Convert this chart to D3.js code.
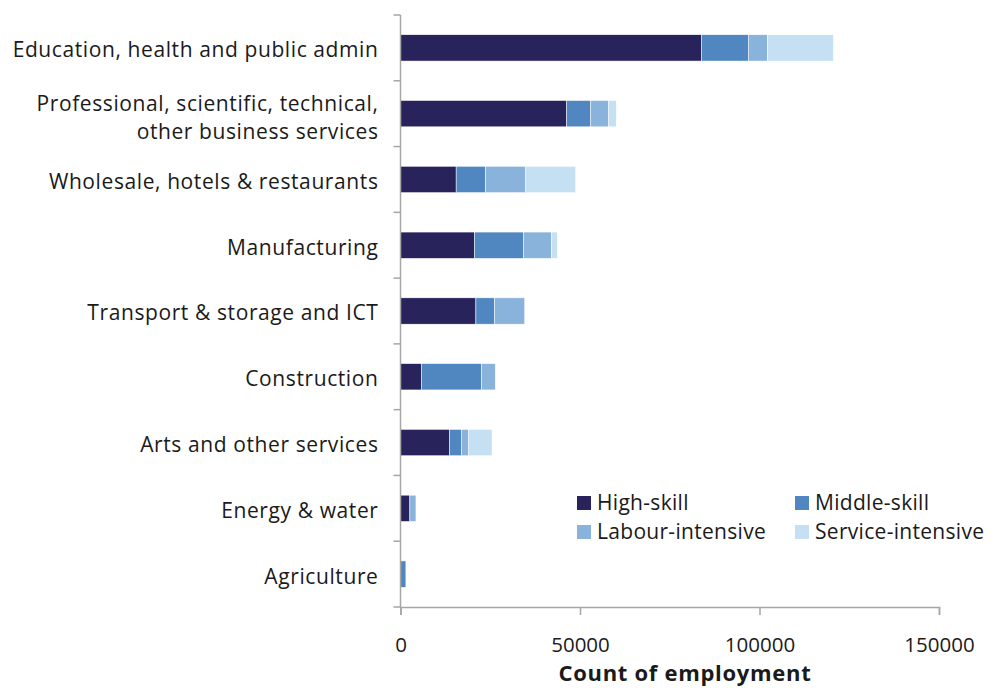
<!DOCTYPE html>
<html>
<head>
<meta charset="utf-8">
<script src="https://cdn.jsdelivr.net/npm/d3@7"></script>
<style>
  body { margin: 0; background: #fff; }
  text { font-family: "Open Sans", "Noto Sans", sans-serif; fill: #1a1a1a; }
</style>
</head>
<body>
<svg id="chart"></svg>
<script>
// Set dimensions
const width = 995, height = 688;
const margin = { top: 15, right: 56, bottom: 81, left: 400.5 };

// Data
const sectors = [
  "Education, health and public admin",
  "Professional, scientific, technical,|other business services",
  "Wholesale, hotels & restaurants",
  "Manufacturing",
  "Transport & storage and ICT",
  "Construction",
  "Arts and other services",
  "Energy & water",
  "Agriculture"
];
const skillGroups = ["High-skill", "Middle-skill", "Labour-intensive", "Service-intensive"];
const highSkill = [83800, 46300, 15500, 20600, 21000, 5900, 13700, 2600, 0];
const middleSkill = [13100, 6700, 8200, 13700, 5200, 16700, 3300, 0, 1500];
const labourIntensive = [5300, 5000, 11200, 7800, 8400, 3800, 2000, 1700, 0];
const serviceIntensive = [18400, 2100, 13900, 1600, 0, 0, 6500, 0, 0];
const xTicks = [0, 50000, 100000, 150000];
const colors = ["#29235c", "#5087c0", "#8ab3dc", "#c6e0f3"];

// Build rows for the stack
const rows = sectors.map((s, i) => ({
  sector: s,
  "High-skill": highSkill[i],
  "Middle-skill": middleSkill[i],
  "Labour-intensive": labourIntensive[i],
  "Service-intensive": serviceIntensive[i]
}));
const stacked = d3.stack().keys(skillGroups)(rows);

const svg = d3.select("#chart")
  .attr("width", width)
  .attr("height", height);

const x = d3.scaleLinear()
  .domain([0, 150000])
  .range([margin.left, width - margin.right]);

const y = d3.scaleBand()
  .domain(sectors)
  .range([margin.top, height - margin.bottom])
  .paddingInner(0.6)
  .paddingOuter(0.3);

const axisColor = "#a6a6a6";

// Bars
svg.append("g")
  .selectAll("g")
  .data(stacked)
  .join("g")
  .attr("fill", (d, i) => colors[i])
  .selectAll("rect")
  .data(d => d)
  .join("rect")
  .attr("x", d => x(d[0]))
  .attr("y", d => y(d.data.sector))
  .attr("width", d => x(d[1]) - x(d[0]))
  .attr("height", y.bandwidth())
  .attr("stroke", "#fff")
  .attr("stroke-width", 0.5);

// Y axis line with ticks between categories
const yBoundaries = d3.range(sectors.length + 1).map(i => margin.top + i * (height - margin.bottom - margin.top) / sectors.length);
svg.append("line")
  .attr("x1", x(0)).attr("x2", x(0))
  .attr("y1", margin.top).attr("y2", height - margin.bottom)
  .attr("stroke", axisColor).attr("stroke-width", 1.5);
svg.append("g")
  .selectAll("line")
  .data(yBoundaries)
  .join("line")
  .attr("x1", x(0) - 7).attr("x2", x(0))
  .attr("y1", d => d).attr("y2", d => d)
  .attr("stroke", axisColor).attr("stroke-width", 1.5);

// X axis
const xAxis = svg.append("g")
  .attr("transform", `translate(0, ${height - margin.bottom})`)
  .call(d3.axisBottom(x).tickValues(xTicks).tickFormat(d3.format("d")).tickSize(8).tickPadding(22));
xAxis.select(".domain").attr("stroke", axisColor).attr("stroke-width", 1.5);
xAxis.selectAll(".tick line").attr("stroke", axisColor).attr("stroke-width", 1.5);
xAxis.selectAll(".tick text")
  .attr("font-size", "20.5px")
  .attr("fill", "#1a1a1a")
  .style("font-family", "'Open Sans', 'Noto Sans', sans-serif");

// Category labels
const labels = svg.append("g")
  .selectAll("text")
  .data(sectors)
  .join("text")
  .attr("x", x(0) - 22)
  .attr("y", d => y(d) + y.bandwidth() / 2)
  .attr("text-anchor", "end")
  .attr("font-size", "21px")
  .attr("letter-spacing", "0.6px");
labels.each(function(d) {
  const parts = d.split("|");
  const t = d3.select(this);
  parts.forEach((p, i) => {
    t.append("tspan")
      .attr("x", x(0) - 22)
      .attr("dy", i === 0 ? (parts.length > 1 ? "-0.12em" : "0.45em") : "1.33em")
      .text(p);
  });
});

// Axis title
svg.append("text")
  .attr("x", 685)
  .attr("y", 681)
  .attr("text-anchor", "middle")
  .attr("font-size", "22px")
  .attr("font-weight", "bold")
  .attr("letter-spacing", "0.7px")
  .text("Count of employment");

// Legend
const legendPos = [[577, 496], [795, 496], [577, 525], [795, 525]];
const legend = svg.append("g");
legend.selectAll("rect")
  .data(skillGroups)
  .join("rect")
  .attr("x", (d, i) => legendPos[i][0])
  .attr("y", (d, i) => legendPos[i][1])
  .attr("width", 14)
  .attr("height", 14)
  .attr("fill", (d, i) => colors[i]);
legend.selectAll("text")
  .data(skillGroups)
  .join("text")
  .attr("x", (d, i) => legendPos[i][0] + 20)
  .attr("y", (d, i) => legendPos[i][1] + 7)
  .attr("dy", "0.35em")
  .attr("font-size", "21px")
  .attr("letter-spacing", "0.3px")
  .text(d => d);
</script>
</body>
</html>
